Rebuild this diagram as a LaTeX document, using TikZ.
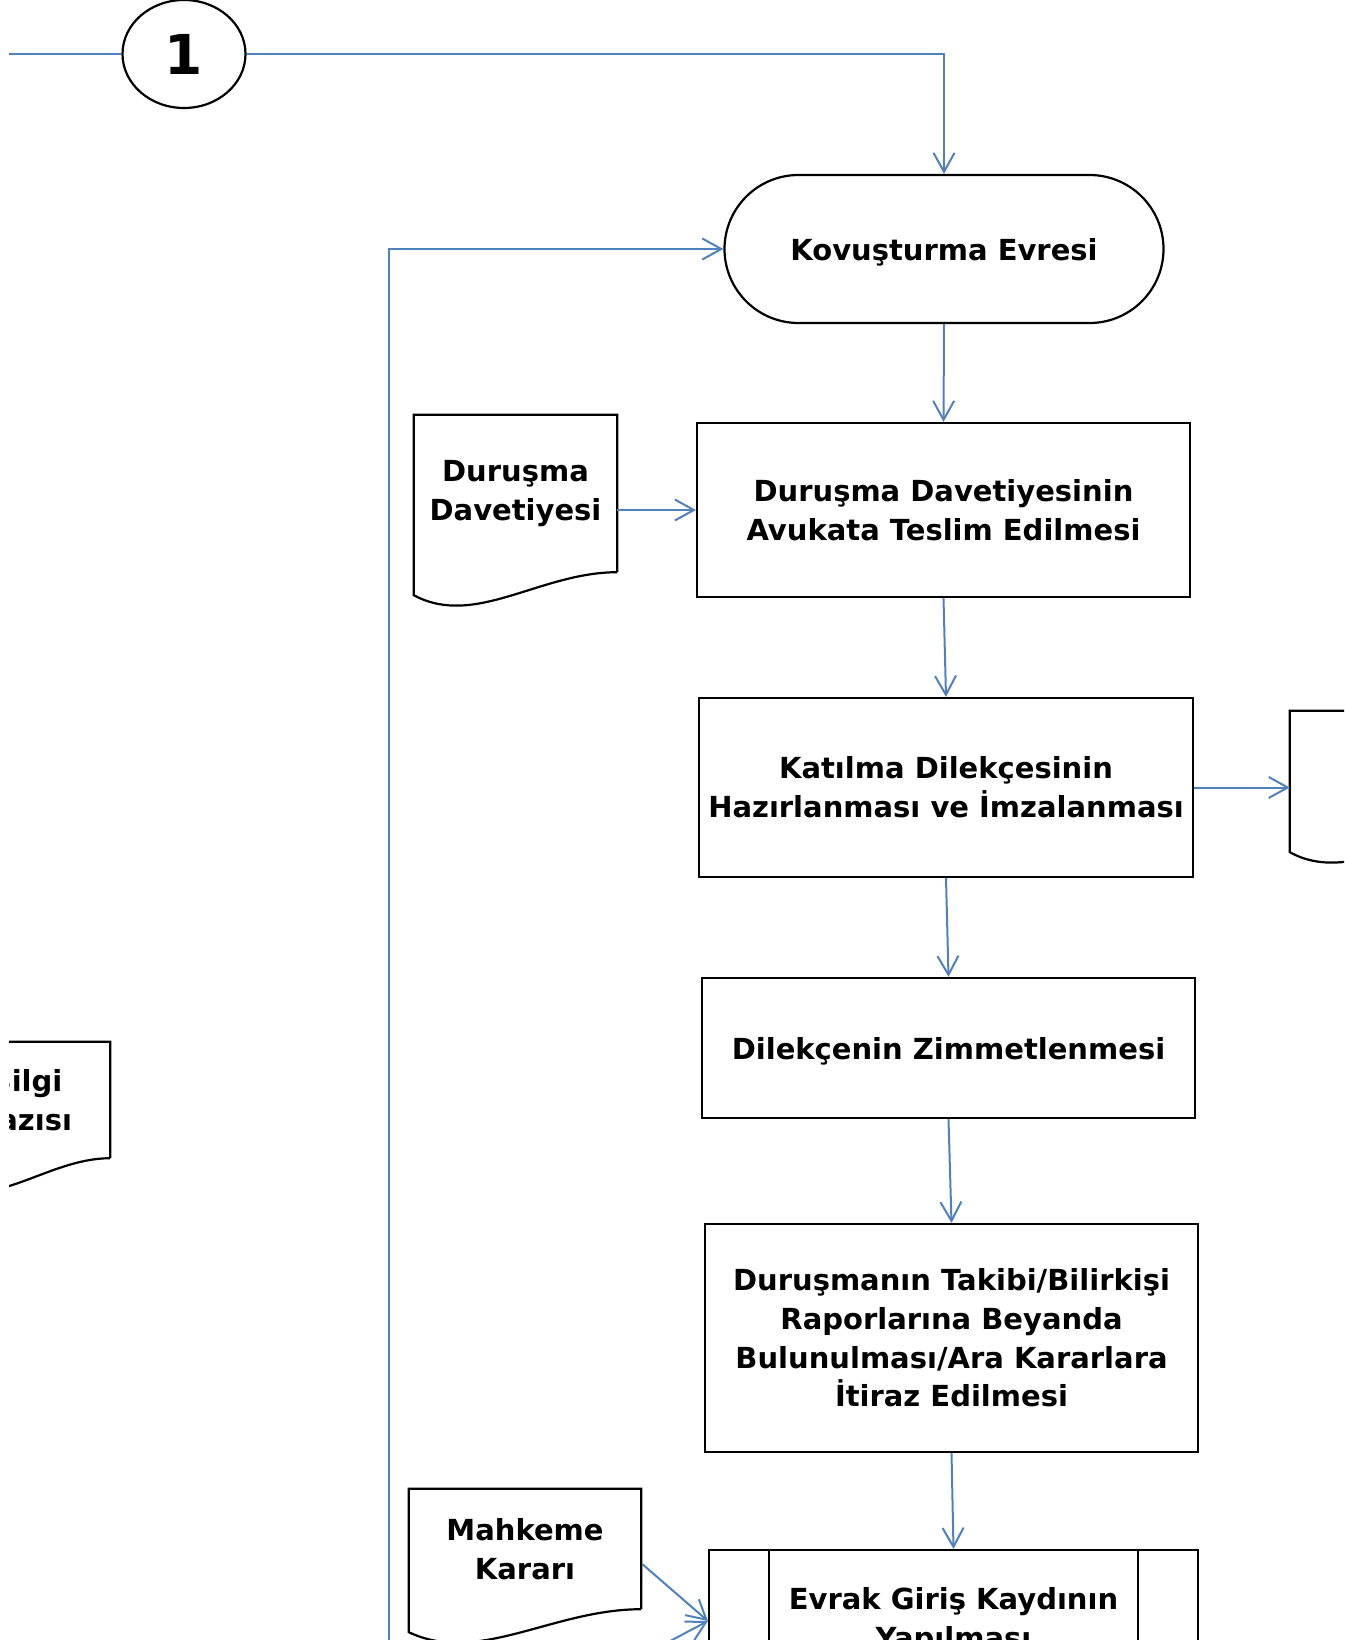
\documentclass[tikz,border=0pt]{standalone}
\usepackage{fontspec}
\setmainfont{DejaVu Sans}
\usetikzlibrary{arrows.meta,calc,shapes.geometric}
\definecolor{akismavi}{RGB}{79,129,189}

% dalgali alt kenarli belge cercevesi
\newcommand{\belgekenar}[1]{%
  \draw[cizgi] (#1.south east) -- (#1.north east) -- (#1.north west) -- ($(#1.south west)+(0,23)$)
    .. controls ($(#1.south west)!0.3!(#1.south east)+(0,56)$) and ($(#1.south west)!0.62!(#1.south east)$) .. (#1.south east);}

\begin{document}
\begin{tikzpicture}[x=1pt,y=-1pt,
  every node/.style={font=\fontsize{29}{38.7}\selectfont\bfseries,align=center},
  cizgi/.style={line width=2.2pt},
  hat/.style={draw=akismavi,line width=2pt},
  akis/.style={hat,-{Straight Barb[length=19pt,width=21pt]}},
  kutu/.style={draw,line width=2.2pt,rectangle,inner sep=0pt},
  belge/.style={rectangle,inner sep=0pt},
  uc/.style={draw,line width=2.2pt,rectangle,rounded corners=74pt,minimum width=439pt,minimum height=148pt},
  baglac/.style={draw,line width=2.2pt,ellipse,inner sep=0pt,minimum width=123pt,minimum height=108pt,font=\fontsize{55}{60}\selectfont\bfseries}]
  \useasboundingbox (0,0) rectangle (1344,1640);
  \begin{scope}
  \clip (9,0) rectangle (1344,1640);
  % Baglanti noktasi
  \node[baglac] (bag1) at (184,54) {1};
  % Ana akis
  \node[uc,text depth=0pt] (kov) at (944,249) {Kovuşturma Evresi};
  \node[kutu,minimum width=493pt,minimum height=174pt] (teslim) at (943.5,510) {Duruşma Davetiyesinin\\Avukata Teslim Edilmesi};
  \node[kutu,minimum width=494pt,minimum height=179pt] (katilma) at (946,787.5) {Katılma Dilekçesinin\\Hazırlanması ve İmzalanması};
  \node[kutu,minimum width=493pt,minimum height=140pt,text depth=0pt] (zimmet) at (948.5,1048) {Dilekçenin Zimmetlenmesi};
  \node[kutu,minimum width=493pt,minimum height=228pt] (takip) at (951.5,1338) {Duruşmanın Takibi/Bilirkişi\\Raporlarına Beyanda\\Bulunulması/Ara Kararlara\\İtiraz Edilmesi};
  \node[kutu,minimum width=489pt,minimum height=142pt] (evrak) at (953.5,1621) {Evrak Giriş Kaydının\\Yapılması};
  \draw[cizgi] ($(evrak.north west)+(61,0)$) -- ($(evrak.south west)+(61,0)$);
  \draw[cizgi] ($(evrak.north east)+(-61,0)$) -- ($(evrak.south east)+(-61,0)$);
  % Belgeler
  \node[belge,minimum width=203pt,minimum height=157pt] (davdoc) at (515.5,493.5) {Duruşma\\Davetiyesi};
  \node[belge,minimum width=232pt,minimum height=120pt] (mahdoc) at (525,1549) {Mahkeme\\Kararı};
  \node[belge,minimum width=168pt,minimum height=116pt] (bilgidoc) at (26,1100) {Bilgi\\Yazısı};
  \node[belge,minimum width=200pt,minimum height=118pt] (sagdoc) at (1390,770) {};
  \belgekenar{davdoc}
  \belgekenar{mahdoc}
  \belgekenar{bilgidoc}
  \belgekenar{sagdoc}
  % Baglantilar
  \coordinate (solbas) at (0,54);
  \coordinate (donus) at (389,1700);
  \coordinate (altok) at (589,1684);
  \draw[hat] (solbas) -- (bag1.west);
  \draw[akis] (bag1.east) -| (kov.north);
  \draw[akis] (donus) |- (kov.west);
  \draw[akis] (kov.south) -- (teslim.north);
  \draw[akis] (davdoc.east |- teslim.west) -- (teslim.west);
  \draw[akis] (teslim.south) -- (katilma.north);
  \draw[akis] (katilma.east) -- (sagdoc.west |- katilma.east);
  \draw[akis] (katilma.south) -- (zimmet.north);
  \draw[akis] (zimmet.south) -- (takip.north);
  \draw[akis] (takip.south) -- (evrak.north);
  \draw[akis] ($(mahdoc.east)+(1,15)$) -- (evrak.west);
  \draw[akis] (altok) -- (evrak.west);
  \end{scope}
\end{tikzpicture}
\end{document}
